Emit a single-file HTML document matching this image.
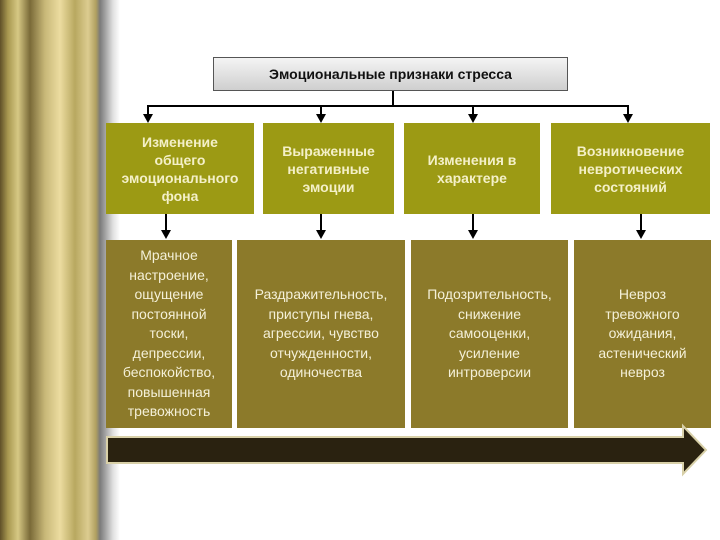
<!DOCTYPE html>
<html><head><meta charset="utf-8"><style>
body{margin:0;width:720px;height:540px;background:#fff;position:relative;overflow:hidden;font-family:"Liberation Sans",sans-serif}
.col{position:absolute;left:0;top:0;width:120px;height:540px;
background:linear-gradient(90deg,#5f5028 0,#a89850 8px,#d6c884 18px,#7a6a38 30px,#c8b878 45px,#ecdca0 60px,#b8a860 75px,#dccc90 88px,#b0a060 96px,#7a7a7a 100px,#a8a8a8 106px,#e0e0e0 113px,#fff 120px)}
.b{position:absolute;display:flex;align-items:center;justify-content:center;text-align:center;box-sizing:border-box}
.u{background:#9c9a14;color:#f4f0c8;font-weight:bold;font-size:14px;line-height:18px}
.l{background:#8c7a2a;color:#f4f0d8;font-size:14px;line-height:19.5px}
.top{left:213px;top:57px;width:355px;height:34px;border:1px solid #555;background:linear-gradient(#f4f4f4,#cfcfcf);font-size:14px;font-weight:bold;color:#111}
.ln{position:absolute;background:#000}
.ar{position:absolute;width:0;height:0;border-left:5px solid transparent;border-right:5px solid transparent;border-top:9px solid #000}
</style></head><body>
<div class="col"></div>
<div class="b top">Эмоциональные признаки стресса</div>
<div class="ln" style="left:392px;top:91px;width:2px;height:15px"></div>
<div class="ln" style="left:147px;top:105px;width:482px;height:2px"></div>
<div class="ln" style="left:147px;top:105px;width:2px;height:12px"></div><div class="ar" style="left:143px;top:114px"></div>
<div class="ln" style="left:320px;top:105px;width:2px;height:12px"></div><div class="ar" style="left:316px;top:114px"></div>
<div class="ln" style="left:472px;top:105px;width:2px;height:12px"></div><div class="ar" style="left:468px;top:114px"></div>
<div class="ln" style="left:627px;top:105px;width:2px;height:12px"></div><div class="ar" style="left:623px;top:114px"></div>

<div class="b u" style="left:106px;top:123px;width:148px;height:91px">Изменение<br>общего<br>эмоционального<br>фона</div>
<div class="b u" style="left:263px;top:123px;width:131px;height:91px">Выраженные<br>негативные<br>эмоции</div>
<div class="b u" style="left:404px;top:123px;width:136px;height:91px">Изменения в<br>характере</div>
<div class="b u" style="left:551px;top:123px;width:159px;height:91px">Возникновение<br>невротических<br>состояний</div>

<div class="ln" style="left:165px;top:214px;width:2px;height:18px"></div><div class="ar" style="left:161px;top:230px"></div>
<div class="ln" style="left:320px;top:214px;width:2px;height:18px"></div><div class="ar" style="left:316px;top:230px"></div>
<div class="ln" style="left:472px;top:214px;width:2px;height:18px"></div><div class="ar" style="left:468px;top:230px"></div>
<div class="ln" style="left:640px;top:214px;width:2px;height:18px"></div><div class="ar" style="left:636px;top:230px"></div>

<div class="b l" style="left:106px;top:240px;width:126px;height:188px">Мрачное<br>настроение,<br>ощущение<br>постоянной<br>тоски,<br>депрессии,<br>беспокойство,<br>повышенная<br>тревожность</div>
<div class="b l" style="left:237px;top:240px;width:168px;height:188px">Раздражительность,<br>приступы гнева,<br>агрессии, чувство<br>отчужденности,<br>одиночества</div>
<div class="b l" style="left:411px;top:240px;width:157px;height:188px">Подозрительность,<br>снижение<br>самооценки,<br>усиление<br>интроверсии</div>
<div class="b l" style="left:574px;top:240px;width:137px;height:188px">Невроз<br>тревожного<br>ожидания,<br>астенический<br>невроз</div>

<svg style="position:absolute;left:0;top:0" width="720" height="540">
<polygon points="107,437 683,437 683,426 706,450 683,474 683,463 107,463" fill="#2a2210" stroke="#d8d0a8" stroke-width="2"/>
</svg>
</body></html>
